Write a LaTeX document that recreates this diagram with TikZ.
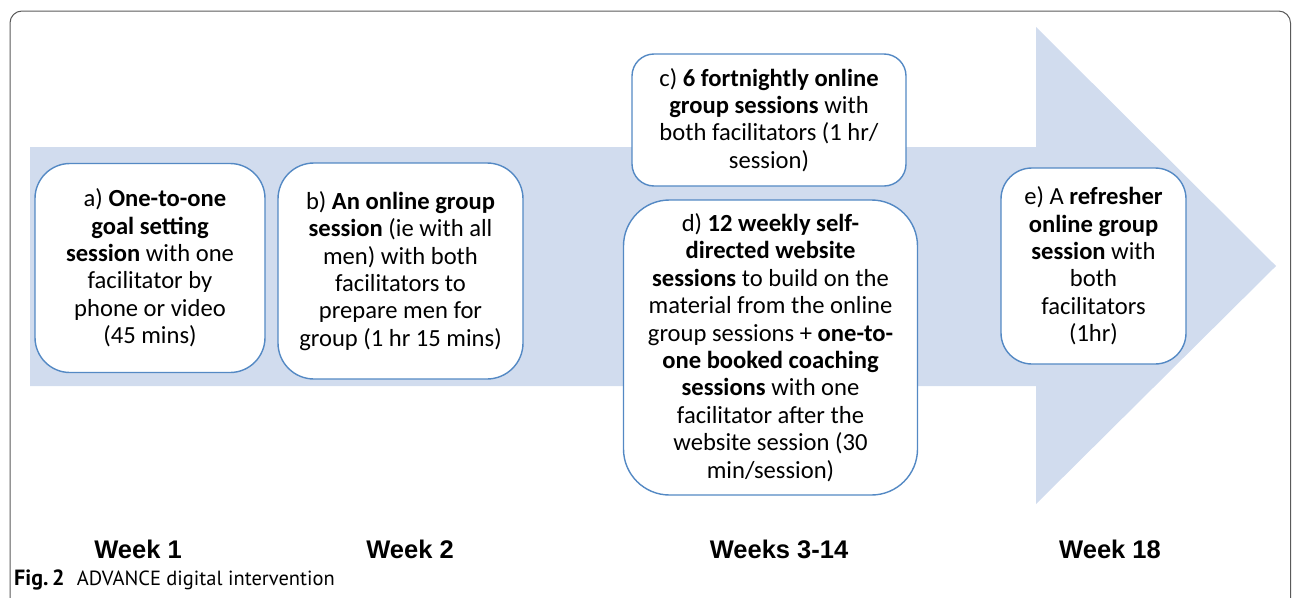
\documentclass[tikz,border=0pt]{standalone}
\usepackage{fontspec}
\setmainfont{Carlito}
\newfontfamily\weekfont{Liberation Sans}
\newfontfamily\capfont{PT Sans}
\definecolor{arrowfill}{RGB}{209,220,238}
\definecolor{boxline}{RGB}{84,137,196}
\definecolor{framecol}{RGB}{90,90,90}
\begin{document}
\begin{tikzpicture}[x=1pt,y=-1pt,
  stepbox/.style={draw=boxline,line width=1.4pt,fill=white,align=center,inner sep=0pt,
    font=\fontsize{24.6}{27.4}\selectfont},
  weeklabel/.style={font=\weekfont\bfseries\fontsize{25.5}{28}\selectfont,inner sep=0pt}]
\useasboundingbox (0,0) rectangle (1292,597);
\draw[framecol,line width=1pt,rounded corners=12pt] (10,11) rectangle (1290.5,620);
% big arrow
\fill[arrowfill] (30,147) -- (1036,147) -- (1036,27) -- (1276,266) -- (1036,504) -- (1036,386) -- (30,386) -- cycle;
% boxes
\node[stepbox,minimum width=230pt,minimum height=209pt,rounded corners=35pt] (a) at (150,268)
  {\hspace{0.4em}a) \textbf{One-to-one}\\ \textbf{goal setting}\\ \textbf{session} with one\\ facilitator by\\ phone or video\\ (45 mins)};
\node[stepbox,minimum width=245pt,minimum height=216pt,rounded corners=36pt] (b) at (400.5,271)
  {b) \textbf{An online group}\\ \textbf{session} (ie with all\\ men) with both\\ facilitators to\\ prepare men for\\ group (1 hr 15 mins)};
\node[stepbox,minimum width=274pt,minimum height=132pt,rounded corners=22pt] (c) at (769,120)
  {c) \textbf{6 fortnightly online}\\ \textbf{group sessions} with\\ both facilitators (1 hr/\\ session)};
\node[stepbox,minimum width=294pt,minimum height=295pt,rounded corners=46pt] (d) at (770.5,347.5)
  {d) \textbf{12 weekly self-}\\ \textbf{directed website}\\ \textbf{sessions} to build on the\\ material from the online\\ group sessions + \textbf{one-to-}\\ \textbf{one booked coaching}\\ \textbf{sessions} with one\\ facilitator after the\\ website session (30\\ min/session)};
\node[stepbox,minimum width=185pt,minimum height=196pt,rounded corners=31pt] (e) at (1093.5,266)
  {e) A \textbf{refresher}\\ \textbf{online group}\\ \textbf{session} with\\ both\\ facilitators\\ (1hr)};
% week labels
\node[weeklabel] (w1) at (138,549) {Week 1};
\node[weeklabel] (w2) at (410,549) {Week 2};
\node[weeklabel] (w3) at (779,549) {Weeks 3-14};
\node[weeklabel] (w4) at (1110,549) {Week 18};
% caption
\node[anchor=base west,inner sep=0pt,font=\capfont\fontsize{20.5}{22}\selectfont] (cap) at (14,585)
  {{\fontsize{22}{22}\selectfont\textbf{Fig.\,2}}\hspace{0.6em}ADVANCE digital intervention};
\end{tikzpicture}
\end{document}
